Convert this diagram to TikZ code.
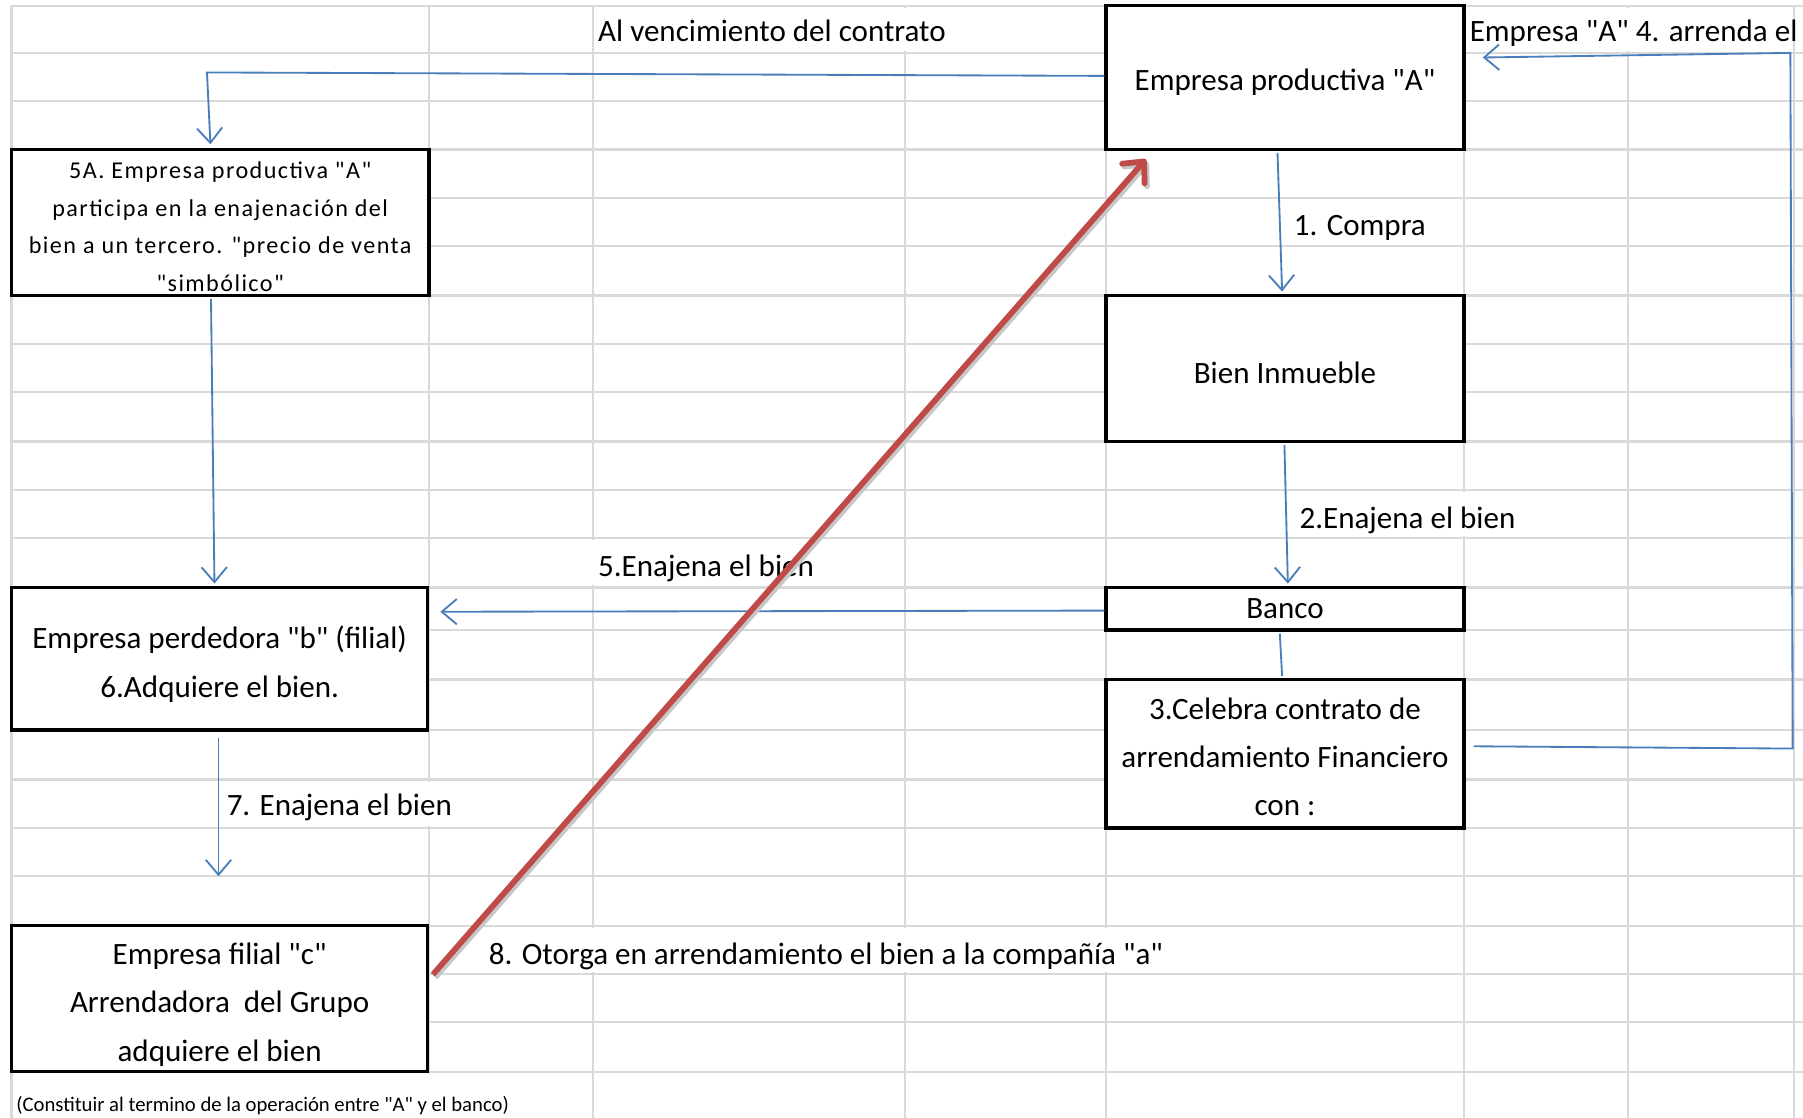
\documentclass[tikz,border=0pt]{standalone}
\usepackage{fontspec}
\setmainfont{Carlito}[Ligatures=TeXOff]
\newfontfamily\spacedfont{Carlito}[LetterSpace=6,Ligatures=TeXOff]
\usetikzlibrary{arrows.meta,calc}
\definecolor{gridc}{HTML}{D9D9D9}
\definecolor{blueline}{HTML}{4A7EBB}
\definecolor{redline}{HTML}{BE4B48}
\newcommand\tstrut[1]{\rule{0pt}{#1}}
\tikzset{
  gridline/.style={draw=gridc, line width=2pt},
  hide/.style={fill=white, draw=none},
  box/.style={draw=black, line width=3pt, fill=white, inner sep=0pt, align=center,
              font=\fontsize{27}{42}\selectfont},
  lbl/.style={inner sep=0pt, anchor=base west, font=\fontsize{27}{32}\selectfont},
  conn/.style={draw=blueline, line width=1.6pt},
  arr/.style={conn, -{Straight Barb[length=13pt,width=22pt,line width=1.6pt]}},
  redarr/.style={draw=redline, line width=5pt,
     -{Straight Barb[length=14pt,width=26pt,line width=5pt,round]},
     preaction={draw=black!22, line width=5pt, transform canvas={shift={(2pt,-2.5pt)}}}},
}
\begin{document}
\begin{tikzpicture}[x=1pt,y=-1pt]
\useasboundingbox (0,0) rectangle (1568,972);
\fill[white] (0,0) rectangle (1568,972);
% spreadsheet grid
\foreach \yy in {5,46,88,130,172,214,257,299,341,384,426,468,511,548,591,635,678,720,762,805,847,889,932}
  \draw[gridline] (10,\yy) -- (1568,\yy);
\foreach \xx in {10,373,516,787,962,1273,1416,1560}
  \draw[gridline] (\xx,5) -- (\xx,972);
% gridlines hidden by overflowing cell text
\fill[hide] (783,7) rectangle (791,44);
\fill[hide] (1412,7) rectangle (1420,44);
\fill[hide] (1269,428) rectangle (1277,466);
\fill[hide] (512,470) rectangle (520,509);
\fill[hide] (369,680) rectangle (377,718);
\fill[hide] (512,807) rectangle (520,845);
\fill[hide] (783,807) rectangle (791,845);
\fill[hide] (958,807) rectangle (966,845);
\fill[hide] (369,934) rectangle (377,972);

% boxes
\node[box, minimum width=311pt, minimum height=125pt] (A) at (1117.5,67.5) {\tstrut{27pt}Empresa productiva "A"};
\node[box, minimum width=311pt, minimum height=127pt] (bien) at (1117.5,320.5) {\tstrut{26pt}Bien Inmueble};
\node[box, minimum width=311pt, minimum height=37pt] (banco) at (1117.5,529.5) {Banco};
\node[box, minimum width=311pt, minimum height=129pt] (celebra) at (1117.5,655.5)
  {\tstrut{24pt}3.Celebra contrato de\\arrendamiento Financiero\\con :};
\node[box, minimum width=363pt, minimum height=127pt, font={\fontsize{21}{32.7}\spacedfont}] (fivea) at (191.5,193.5)
  {\tstrut{22pt}5A. Empresa productiva "A"\\participa en la enajenación del\\bien a un tercero. "precio de venta\\"simbólico"};
\node[box, minimum width=362pt, minimum height=124pt] (perd) at (191,573)
  {\tstrut{29pt}Empresa perdedora "b" (filial)\\6.Adquiere el bien.};
\node[box, minimum width=362pt, minimum height=127pt] (filial) at (191,868.5)
  {\tstrut{29pt}Empresa filial "c"\\Arrendadora\ \ del Grupo\\adquiere el bien};

% labels
\node[lbl] (l0) at (520,36) {Al vencimiento del contrato};
\node[lbl] (l4) at (1278,36) {Empresa "A" 4. arrenda el};
\node[lbl] (l1) at (1125,205) {1. Compra};
\node[lbl] (l2) at (1130,460) {2.Enajena el bien};
\node[lbl] (l5) at (520,501) {5.Enajena el bien};
\node[lbl] (l7) at (197,709) {7. Enajena el bien};
\node[lbl] (l8) at (425,839) {8. Otorga en arrendamiento el bien a la compañía "a"};
\node[inner sep=0pt, anchor=base west, font=\fontsize{18}{20}\selectfont] (foot) at (14,967)
  {(Constituir al termino de la operación entre "A" y el banco)};

% connector points
\coordinate (c1) at (179,63);
\coordinate (p5) at (383,532);
\coordinate (r1) at (1559,651);
\coordinate (r2) at (1557,46);
\coordinate (e7) at (190,762);

% blue connectors
\draw[conn] ($(A.west)+(0,-1.5)$) -- (c1);
\draw[arr] ($(c1)+(1,0)$) -- ($(fivea.north)+(-8.5,-3)$);
\draw[arr] ($(fivea.south)+(-8,1.5)$) -- ($(perd.north)+(-4.5,-2)$);
\draw[arr] ($(A.south)+(-6.5,1.5)$) -- ($(bien.north)+(-2.5,-2)$);
\draw[arr] ($(bien.south)+(-0.5,1.5)$) -- ($(banco.north)+(2.5,-2)$);
\draw[arr] ($(banco.west)+(0,1.5)$) -- (p5);
\draw[conn] ($(banco.south)+(-4.5,1.5)$) -- ($(celebra.north)+(-2.5,-1.5)$);
\draw[arr] ($(celebra.east)+(7,-6.5)$) -- (r1) -- (r2) -- ($(A.east)+(15,-17.5)$);
\draw[arr] ($(perd.south)+(-1,5)$) -- (e7);

% red connector
\draw[redarr] ($(filial.east)+(3,-21)$) -- ($(A.south west)+(36,7)$);
\end{tikzpicture}
\end{document}
